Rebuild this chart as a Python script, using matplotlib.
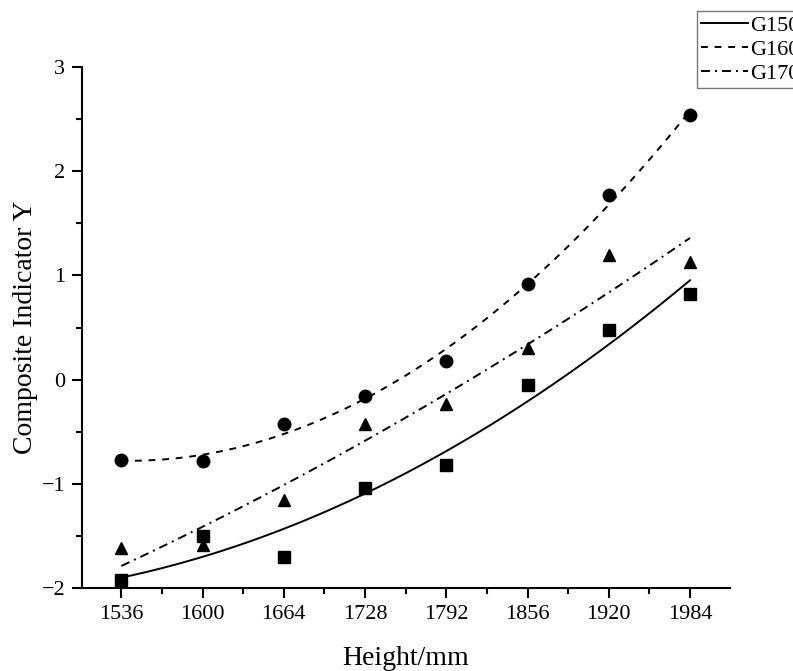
import numpy as np
import matplotlib
matplotlib.use("Agg")
import matplotlib.pyplot as plt
from matplotlib.ticker import MultipleLocator

heights = [1536, 1600, 1664, 1728, 1792, 1856, 1920, 1984]
g150 = [-1.92, -1.50, -1.70, -1.04, -0.82, -0.05, 0.48, 0.82]
g160 = [-0.77, -0.78, -0.43, -0.16, 0.18, 0.92, 1.77, 2.54]
g170 = [-1.62, -1.59, -1.16, -0.43, -0.23, 0.30, 1.20, 1.13]
labels = ["G150", "G160", "G170"]

plt.rcParams['font.family'] = ['Liberation Serif', 'DejaVu Serif']

fig = plt.figure(figsize=(7.93, 6.71), dpi=100)
ax = fig.add_axes([0.1034, 0.1237, 0.8172, 0.7763])

x = np.array(heights, dtype=float)
xs = np.linspace(x.min(), x.max(), 200)
series = [(g150, 's', 8, '-'), (g160, 'o', 9, (0, (3.5, 3.5))),
          (g170, '^', 9, (0, (4.6, 2.6, 1.0, 2.6)))]
handles = []
for (vals, m, ms, ls), lab in zip(series, labels):
    ax.plot(x, vals, linestyle='none', marker=m, color='black', markersize=ms)
    c = np.polyfit(x, vals, 2)
    h, = ax.plot(xs, np.polyval(c, xs), color='black', linestyle=ls, linewidth=1.4, label=lab)
    handles.append(h)

ax.set_xlim(1505, 2015.5)
ax.set_ylim(-2, 3)
ax.set_xticks(heights)
ax.xaxis.set_minor_locator(MultipleLocator(32))
ax.yaxis.set_major_locator(MultipleLocator(1))
ax.yaxis.set_minor_locator(MultipleLocator(0.5))
ax.spines['top'].set_visible(False)
ax.spines['right'].set_visible(False)
for s in ['left', 'bottom']:
    ax.spines[s].set_linewidth(1.5)
ax.tick_params(which='major', length=7, width=1.5, labelsize=16, direction='out', pad=5)
ax.tick_params(which='minor', length=4, width=1.5, direction='out')
ax.set_xlabel("Height/mm", fontsize=20, labelpad=16)
ax.set_ylabel("Composite Indicator Y", fontsize=20, labelpad=3)

leg = fig.legend(handles=handles, loc='upper left', bbox_to_anchor=(0.879, 0.9836),
                 frameon=True, fancybox=False, edgecolor='#555555', fontsize=16,
                 handlelength=2.1, handletextpad=0.1, borderpad=0.2, labelspacing=0.15,
                 borderaxespad=0)
leg.get_frame().set_linewidth(1.0)

fig.savefig("out.png", dpi=100)
